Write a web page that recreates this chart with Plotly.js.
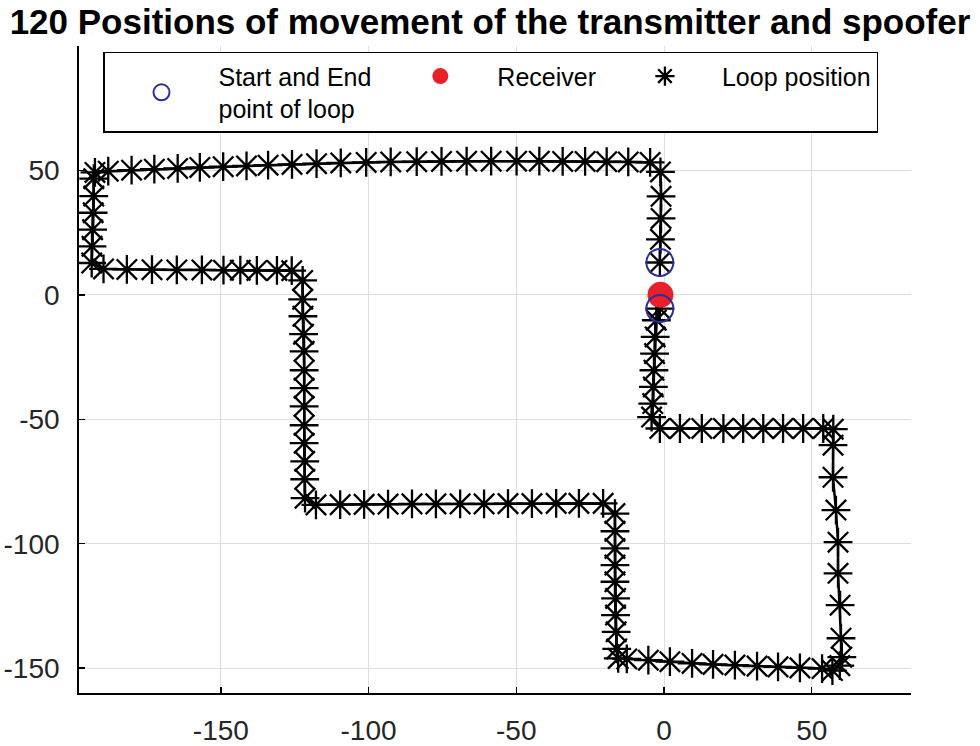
<!DOCTYPE html>
<html><head><meta charset="utf-8">
<script src="https://cdn.plot.ly/plotly-3.0.1.min.js"></script>
<style>html,body{margin:0;padding:0;background:#fff;} #chart{width:980px;height:746px;}</style>
</head><body><div id="chart"></div>
<script>
const titleText = '120 Positions of movement of the transmitter and spoofer';
const seriesNames = ['Start and End&nbsp;<br>point of loop', 'Receiver&nbsp;', 'Loop position'];

const loopX = [
  -1.4, -1.2, -1.0, -1.0, -1.2,
  -4.7, -12.1, -19.4, -26.7, -34.3, -42.2, -49.9, -58.5, -66.8, -75.3, -83.7, -92.5, -100.8, -109.4, -117.6, -125.9, -134.0, -141.3, -149.2, -157.1, -164.6, -172.5, -180.2, -188.1,
  -192.6,
  -193.0, -193.0, -193.2, -193.4, -193.6, -193.7,
  -189.7, -181.8, -173.3, -164.9, -156.4, -149.1, -143.4, -137.8, -131.0, -126.0,
  -122.3, -122.3, -122.2, -122.0, -121.8, -121.8, -121.8, -121.8, -121.8, -121.8, -121.6, -121.6, -121.5,
  -117.8, -109.6, -101.5, -93.4, -85.3, -77.2, -69.0, -60.9, -52.8, -44.7, -36.5, -28.8, -20.6,
  -16.6, -16.6, -16.6, -16.6, -16.6, -16.4, -16.4, -16.2, -16.0, -15.5,
  -12.6, -5.3, 2.0, 9.5, 16.6, 24.0, 31.5, 38.6, 46.0, 53.5,
  57.0, 59.5,
  60.2, 59.9, 59.6, 58.9, 58.9, 58.2, 57.2, 57.2,
  57.3, 53.9, 47.1, 40.3, 33.6, 26.8, 20.1, 12.8, 5.4, -1.4,
  -4.2, -3.8, -3.6, -3.4, -3.2, -3.0, -2.6, -1.4
];
const loopY = [
  13.0, 22.3, 30.7, 39.6, 49.4,
  53.2, 53.4, 53.5, 53.6, 53.6, 53.7, 53.7, 53.7, 53.7, 53.6, 53.5, 53.4, 53.2, 53.0, 52.7, 52.4, 52.1, 51.8, 51.5, 51.2, 50.8, 50.5, 50.1, 49.7,
  49.2,
  46.7, 39.7, 33.0, 26.2, 19.5, 12.8,
  10.4, 10.2, 10.1, 10.0, 10.0, 9.9, 9.9, 9.8, 9.8, 9.7,
  5.8, -1.8, -8.6, -15.8, -22.7, -30.3, -37.5, -44.8, -52.4, -59.6, -66.9, -74.1, -81.7,
  -84.4, -84.3, -84.2, -84.1, -84.0, -84.0, -84.0, -84.0, -83.9, -83.9, -83.8, -83.8, -83.8,
  -87.9, -95.0, -101.9, -108.6, -115.3, -122.0, -128.7, -135.4, -142.3, -146.1,
  -146.3, -146.8, -147.4, -148.1, -148.5, -148.8, -149.2, -149.5, -149.9, -150.2,
  -151.0, -149.0,
  -145.6, -138.0, -124.7, -111.9, -99.4, -86.5, -73.3, -60.4,
  -54.0, -53.7, -53.7, -53.7, -53.7, -53.7, -53.7, -53.7, -53.7, -53.7,
  -49.1, -43.7, -37.0, -30.3, -23.6, -16.9, -10.2, -5.5
];
const endpointX = [-1.4, -1.4];
const endpointY = [13.0, -5.5];
const receiverX = [-1.2];
const receiverY = [0.0];
const xTicks = [-150, -100, -50, 0, 50];
const yTicks = [-150, -100, -50, 0, 50];

const traces = [
  {
    x: loopX, y: loopY, type: 'scatter', mode: 'lines', name: 'path',
    line: {color: '#000000', width: 2.5}, showlegend: false, hoverinfo: 'skip'
  },
  {
    x: loopX, y: loopY, type: 'scatter', mode: 'markers', name: seriesNames[2],
    marker: {symbol: 'asterisk-open', size: 24, color: '#000000', line: {color: '#000000', width: 2.3}},
    legendrank: 3
  },
  {
    x: receiverX, y: receiverY, type: 'scatter', mode: 'markers', name: seriesNames[1],
    marker: {symbol: 'circle', size: 26, color: '#e8202a', line: {width: 0}},
    legendrank: 2
  },
  {
    x: endpointX, y: endpointY, type: 'scatter', mode: 'markers', name: seriesNames[0],
    marker: {symbol: 'circle-open', size: 27, color: '#2b2f96', line: {color: '#2b2f96', width: 2}},
    legendrank: 1
  }
];

const axisCommon = {
  showline: true, linecolor: '#000000', linewidth: 1.8,
  showgrid: true, gridcolor: '#dedede', gridwidth: 1,
  zeroline: false, ticks: 'inside', ticklen: 6, tickwidth: 1.5, tickcolor: '#000000',
  tickfont: {family: 'Arial, Liberation Sans, sans-serif', size: 28, color: '#262626'},
  mirror: false, fixedrange: true
};

const layout = {
  width: 980, height: 746,
  margin: {l: 79, r: 69, t: 46, b: 53, pad: 0},
  paper_bgcolor: '#ffffff', plot_bgcolor: '#ffffff',
  title: {
    text: '<b>' + titleText + '</b>',
    font: {family: 'Arial, Liberation Sans, sans-serif', size: 35, color: '#000000'},
    x: 0.5, xref: 'container', xanchor: 'center',
    y: 0.971, yref: 'container', yanchor: 'middle'
  },
  xaxis: Object.assign({}, axisCommon, {range: [-198, 83.6], tickvals: xTicks, ticktext: xTicks.map(String), ticklabelstandoff: 12}),
  yaxis: Object.assign({}, axisCommon, {range: [-160, 100], tickvals: yTicks, ticktext: yTicks.map(String), ticklabelstandoff: 12}),
  showlegend: true,
  legend: {
    orientation: 'h', x: (103 - 79) / 832, xanchor: 'left', y: 0.991, yanchor: 'top',
    bordercolor: '#000000', borderwidth: 1.5, bgcolor: '#ffffff',
    font: {family: 'Arial, Liberation Sans, sans-serif', size: 25, color: '#000000'},
    itemwidth: 104, traceorder: 'normal'
  }
};

Plotly.newPlot('chart', traces, layout, {displayModeBar: false, staticPlot: true});
</script>
</body></html>
